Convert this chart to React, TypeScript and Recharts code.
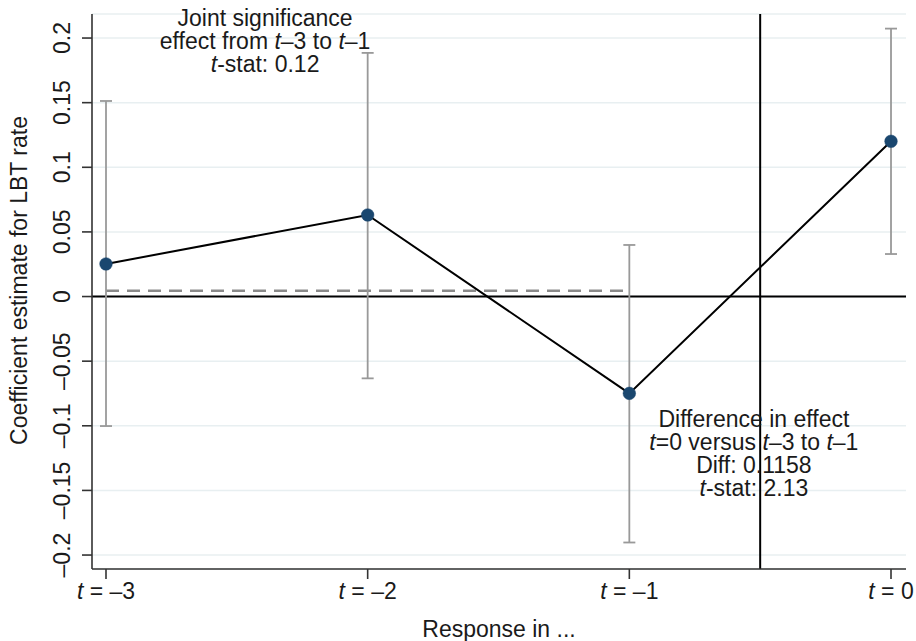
import {
  ComposedChart,
  Line,
  Scatter,
  ErrorBar,
  XAxis,
  YAxis,
  CartesianGrid,
  ReferenceLine,
  ReferenceDot,
} from 'recharts';

// periods relative to the event (t = -3 ... t = 0)
const periods = [-3, -2, -1, 0];
const coefs = [0.0252, 0.0631, -0.0749, 0.1201];
const ciLow = [-0.1002, -0.0633, -0.1903, 0.0329];
const ciHigh = [0.1513, 0.1885, 0.0399, 0.2073];

const yTicks = [-0.2, -0.15, -0.1, -0.05, 0, 0.05, 0.1, 0.15, 0.2];
const preMean = 0.0045; // mean of t-3..t-1
const cutoff = -0.5;

// annotations, _t_ = italic
const jointNote = ['Joint significance', 'effect from _t_–3 to _t_–1', '_t_-stat: 0.12'];
const jointAt = { x: -2.392, y: 0.2094 };
const diffNote = ['Difference in effect', '_t_=0 versus _t_–3 to _t_–1', 'Diff: 0.1158', '_t_-stat: 2.13'];
const diffAt = { x: -0.524, y: -0.101 };

const FONT = '"Liberation Sans", Arial, Helvetica, sans-serif';
const FS = 23;
const INK = '#1a1a1a';

const data = periods.map((p, i) => ({
  x: p,
  coef: coefs[i],
  err: [coefs[i] - ciLow[i], ciHigh[i] - coefs[i]],
}));

function parts(line: string) {
  return line.split('_').map((s, i) => (
    <tspan key={i} fontStyle={i % 2 ? 'italic' : 'normal'}>
      {s}
    </tspan>
  ));
}

function Note({ cx, cy, lines }: { cx?: number; cy?: number; lines: string[] }) {
  if (cx == null || cy == null) return null;
  return (
    <g>
      {lines.map((l, i) => (
        <text
          key={i}
          x={cx}
          y={cy + i * 23}
          textAnchor="middle"
          fontFamily={FONT}
          fontSize={FS}
          fill={INK}
        >
          {parts(l)}
        </text>
      ))}
    </g>
  );
}

function YTick({ x, y, payload }: any) {
  const v = payload.value;
  const label = v === 0 ? '0' : String(v).replace('-', '–');
  return (
    <text
      x={x - 12}
      y={y}
      transform={`rotate(-90, ${x - 12}, ${y})`}
      textAnchor="middle"
      fontFamily={FONT}
      fontSize={FS}
      fill={INK}
    >
      {label}
    </text>
  );
}

function XTick({ x, y, payload }: any) {
  const v = payload.value;
  return (
    <text x={x} y={y + 20} textAnchor="middle" fontFamily={FONT} fontSize={FS} fill={INK}>
      <tspan fontStyle="italic">t</tspan>
      <tspan>{` = ${v === 0 ? '0' : String(v).replace('-', '–')}`}</tspan>
    </text>
  );
}

export default function App() {
  return (
    <div style={{ position: 'absolute', left: 0, top: 0, background: '#fff' }}>
      <ComposedChart
        width={916}
        height={641}
        data={data}
        margin={{ top: 14, right: 10, bottom: 0, left: 0 }}
      >
        <CartesianGrid horizontal vertical={false} stroke="#e8eff1" strokeWidth={1.5} />
        <XAxis
          dataKey="x"
          type="number"
          domain={[-3.0535, 0.0573]}
          ticks={periods}
          allowDataOverflow
          height={72}
          tickSize={10}
          tickMargin={0}
          tick={<XTick />}
          axisLine={{ stroke: '#333', strokeWidth: 1.6 }}
          tickLine={{ stroke: '#333', strokeWidth: 1.6 }}
          label={{
            content: ({ viewBox }: any) => (
              <text
                x={viewBox.x + viewBox.width / 2}
                y={viewBox.y + 68}
                textAnchor="middle"
                fontFamily={FONT}
                fontSize={FS}
                fill={INK}
              >
                Response in ...
              </text>
            ),
          }}
        />
        <YAxis
          type="number"
          domain={[-0.2108, 0.2186]}
          ticks={yTicks}
          allowDataOverflow
          width={92}
          tickSize={10}
          tickMargin={0}
          tick={<YTick />}
          axisLine={{ stroke: '#333', strokeWidth: 1.6 }}
          tickLine={{ stroke: '#333', strokeWidth: 1.6 }}
          label={{
            content: ({ viewBox }: any) => {
              const lx = 27;
              const ly = viewBox.y + viewBox.height / 2 - 11;
              return (
                <text
                  x={lx}
                  y={ly}
                  transform={`rotate(-90, ${lx}, ${ly})`}
                  textAnchor="middle"
                  fontFamily={FONT}
                  fontSize={FS}
                  fill={INK}
                >
                  Coefficient estimate for LBT rate
                </text>
              );
            },
          }}
        />
        <ReferenceLine y={0} stroke="#000" strokeWidth={2} />
        <ReferenceLine
          segment={[
            { x: periods[0], y: preMean },
            { x: periods[2], y: preMean },
          ]}
          stroke="#8a8a8a"
          strokeWidth={2.5}
          strokeDasharray="13 8"
        />
        <Scatter dataKey="coef" isAnimationActive={false} shape={() => <g />}>
          <ErrorBar dataKey="err" direction="y" width={6} stroke="#999" strokeWidth={1.8} />
        </Scatter>
        <Line
          dataKey="coef"
          type="linear"
          stroke="#000"
          strokeWidth={2}
          isAnimationActive={false}
          dot={{ r: 6.3, fill: '#1a476f', stroke: '#1a476f', strokeWidth: 0.5 }}
          activeDot={false}
        />
        <ReferenceDot
          x={jointAt.x}
          y={jointAt.y}
          r={0}
          shape={(p: any) => <Note cx={p.cx} cy={p.cy} lines={jointNote} />}
        />
        <ReferenceDot
          x={diffAt.x}
          y={diffAt.y}
          r={0}
          shape={(p: any) => <Note cx={p.cx} cy={p.cy} lines={diffNote} />}
        />
        <ReferenceLine x={cutoff} stroke="#000" strokeWidth={2} />
      </ComposedChart>
    </div>
  );
}
